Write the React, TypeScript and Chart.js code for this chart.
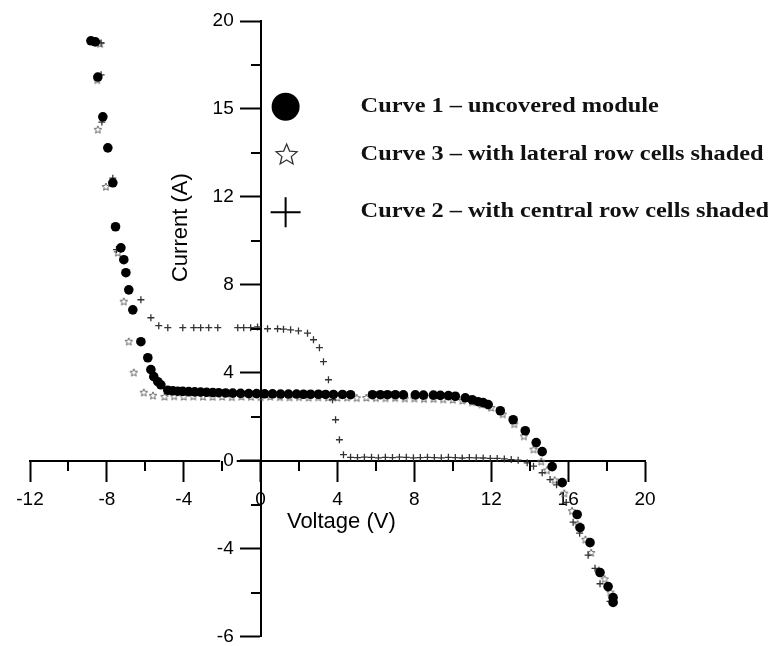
import React, { useEffect, useRef } from 'react';
import { Chart, registerables } from 'chart.js';

Chart.register(...registerables);

// ---------- data ----------
const X_MIN = -12;
const X_MAX = 20;
const Y_MIN = -8;
const Y_MAX = 20;
const Y_TICKS = [-8, -4, 0, 4, 8, 12, 16, 20];
const Y_TICK_LABELS = ['-6', '-4', '0', '4', '8', '12', '15', '20'];
const X_MINOR = [-10, -6, -2, 2, 6, 10, 14, 18];
const Y_MINOR = [-6, -2, 2, 6, 10, 14, 18];

const X_TITLE = 'Voltage (V)';
const Y_TITLE = 'Current (A)';

const SERIES_NAMES = [
  'Curve 1 \u2013 uncovered module',
  'Curve 2 \u2013 with central row cells shaded',
  'Curve 3 \u2013 with lateral row cells shaded',
];
// legend order as shown: curve 1, curve 3, curve 2
const LEGEND_ORDER = [0, 2, 1];

// Curve 1: uncovered module (filled circles)
const CURVE1: number[][] = [
  [-8.83, 19.1], [-8.6, 19.05], [-8.47, 17.45], [-8.21, 15.64], [-7.95, 14.23], [-7.69, 12.64],
  [-7.55, 10.64], [-7.27, 9.68], [-7.12, 9.14], [-7.01, 8.55], [-6.86, 7.77], [-6.65, 6.86],
  [-6.23, 5.41], [-5.87, 4.68], [-5.71, 4.14], [-5.56, 3.82], [-5.35, 3.59], [-5.19, 3.45],
  [-4.83, 3.2], [-4.57, 3.18], [-4.31, 3.16], [-4.05, 3.15], [-3.74, 3.14], [-3.43, 3.13],
  [-3.12, 3.12], [-2.81, 3.11], [-2.49, 3.1], [-2.18, 3.09], [-1.82, 3.08], [-1.45, 3.07],
  [-1.04, 3.06], [-0.62, 3.05], [-0.21, 3.05], [0.21, 3.04], [0.62, 3.04], [1.04, 3.03],
  [1.45, 3.03], [1.87, 3.03], [2.23, 3.02], [2.6, 3.02], [3.01, 3.02], [3.38, 3.01],
  [3.79, 3.01], [4.26, 3.01], [4.68, 3.0], [5.82, 3.0], [6.23, 3.0], [6.6, 3.0], [7.01, 3.0],
  [7.43, 2.99], [8.05, 2.99], [8.47, 2.98], [8.99, 2.98], [9.35, 2.97], [9.77, 2.96], [10.13, 2.93],
  [10.65, 2.86], [11.01, 2.77], [11.32, 2.68], [11.58, 2.64], [11.84, 2.55], [12.47, 2.27],
  [13.14, 1.86], [13.77, 1.36], [14.34, 0.82], [14.65, 0.41], [15.17, -0.27], [15.69, -1.0],
  [16.47, -2.45], [16.62, -3.05], [17.14, -3.73], [17.66, -5.09], [18.08, -5.73], [18.34, -6.23],
  [18.34, -6.45],
];

// Curve 2: central row cells shaded (plus markers)
const CURVE2: number[][] = [
  [-8.3, 19.0], [-8.3, 17.55], [-8.26, 15.4], [-7.69, 12.85], [-7.5, 9.6], [-6.23, 7.32],
  [-5.71, 6.5], [-5.3, 6.14], [-4.83, 6.05], [-4.05, 6.05], [-3.48, 6.05], [-3.12, 6.05],
  [-2.7, 6.05], [-2.23, 6.05], [-1.19, 6.05], [-0.88, 6.05], [-0.52, 6.05], [-0.16, 6.08],
  [0.36, 6.0], [0.88, 6.0], [1.19, 5.98], [1.56, 5.95], [1.97, 5.9], [2.44, 5.8],
  [2.75, 5.5], [3.06, 5.14], [3.27, 4.5], [3.53, 3.68], [3.74, 2.77], [3.9, 1.86], [4.1, 0.95],
  [4.31, 0.27], [4.68, 0.15], [5.04, 0.14], [5.4, 0.16], [5.77, 0.15], [6.13, 0.13], [6.49, 0.15],
  [6.86, 0.14], [7.22, 0.16], [7.58, 0.15], [7.95, 0.13], [8.31, 0.14], [8.68, 0.15], [9.04, 0.14],
  [9.4, 0.13], [9.77, 0.15], [10.13, 0.14], [10.49, 0.12], [10.86, 0.14], [11.22, 0.13],
  [11.58, 0.12], [11.95, 0.1], [12.31, 0.1], [12.68, 0.08], [13.04, 0.05], [13.4, 0.02],
  [13.87, -0.1], [14.2, -0.25], [14.65, -0.55], [15.06, -0.86], [15.4, -1.1], [15.9, -1.9],
  [16.26, -2.8], [16.6, -3.3], [17.04, -4.3], [17.4, -4.9], [17.66, -5.6], [18.18, -6.4],
];

// Curve 3: lateral row cells shaded (star markers)
const CURVE3: number[][] = [
  [-8.35, 18.95], [-8.5, 17.3], [-8.47, 15.05], [-8.05, 12.45], [-7.43, 9.45], [-7.12, 7.23],
  [-6.86, 5.41], [-6.6, 4.0], [-6.08, 3.09], [-5.6, 2.95], [-5.0, 2.9], [-4.5, 2.92], [-4.0, 2.9],
  [-3.5, 2.91], [-3.0, 2.9], [-2.5, 2.89], [-2.0, 2.9], [-1.5, 2.88], [-1.0, 2.9], [-0.5, 2.89],
  [0.0, 2.88], [0.5, 2.9], [1.0, 2.88], [1.5, 2.87], [2.0, 2.88], [2.5, 2.86], [3.0, 2.87],
  [3.5, 2.86], [4.0, 2.85], [4.5, 2.86], [5.0, 2.84], [5.5, 2.85], [6.0, 2.84], [6.5, 2.83],
  [7.0, 2.84], [7.5, 2.82], [8.0, 2.82], [8.5, 2.8], [9.0, 2.8], [9.5, 2.78], [10.0, 2.76],
  [10.5, 2.72], [11.0, 2.65], [11.5, 2.55], [12.0, 2.4], [12.6, 2.1], [13.2, 1.65], [13.7, 1.1],
  [14.2, 0.5], [14.6, -0.05], [14.9, -0.45], [15.3, -0.9], [15.8, -1.5], [16.2, -2.3],
  [16.5, -2.9], [16.9, -3.6], [17.2, -4.2], [17.6, -5.0], [17.9, -5.4], [18.2, -6.0],
];

// x value at which the right edge of the y tick labels sits
const Y_LABEL_X = -1.4;

// ---------- helpers ----------
function starPath(g: CanvasRenderingContext2D, cx: number, cy: number, R: number) {
  const r = R * 0.45;
  g.beginPath();
  for (let i = 0; i < 10; i++) {
    const a = -Math.PI / 2 + (i * Math.PI) / 5;
    const rr = i % 2 ? r : R;
    const px = cx + rr * Math.cos(a);
    const py = cy + rr * Math.sin(a);
    if (i === 0) g.moveTo(px, py);
    else g.lineTo(px, py);
  }
  g.closePath();
}

function makeStarCanvas(size: number, color: string, lw: number) {
  const c = document.createElement('canvas');
  c.width = size;
  c.height = size;
  const g = c.getContext('2d')!;
  g.strokeStyle = color;
  g.lineWidth = lw;
  starPath(g, size / 2, size / 2, size / 2 - lw);
  g.stroke();
  return c;
}

const decorPlugin = {
  id: 'decor',
  afterDraw(chart: any) {
    const { ctx } = chart;
    const xs = chart.scales.x;
    const ys = chart.scales.y;
    const x0 = Math.round(xs.getPixelForValue(0));
    const y0 = Math.round(ys.getPixelForValue(0));
    ctx.save();
    ctx.strokeStyle = '#000';
    ctx.lineWidth = 2;
    X_MINOR.forEach((v) => {
      const px = Math.round(xs.getPixelForValue(v));
      ctx.beginPath();
      ctx.moveTo(px, y0);
      ctx.lineTo(px, y0 + 10);
      ctx.stroke();
    });
    Y_MINOR.forEach((v) => {
      const py = Math.round(ys.getPixelForValue(v));
      ctx.beginPath();
      ctx.moveTo(x0, py);
      ctx.lineTo(x0 - 10, py);
      ctx.stroke();
    });

    // axis titles
    ctx.fillStyle = '#000';
    ctx.font = '22px "Liberation Sans", Arial, sans-serif';
    ctx.textAlign = 'center';
    ctx.textBaseline = 'middle';
    ctx.fillText(X_TITLE, xs.getPixelForValue(4.2), ys.getPixelForValue(-2.8));
    ctx.save();
    ctx.translate(xs.getPixelForValue(-4.15), ys.getPixelForValue(10.6));
    ctx.rotate(-Math.PI / 2);
    ctx.fillText(Y_TITLE, 0, 0);
    ctx.restore();

    // legend
    const markerX = xs.getPixelForValue(1.3);
    const textX = xs.getPixelForValue(5.2);
    const rowYs = [16.1, 13.9, 11.3].map((v) => ys.getPixelForValue(v));
    ctx.font = 'bold 20px "Liberation Serif", "Times New Roman", serif';
    ctx.textAlign = 'left';
    const refW = ctx.measureText(SERIES_NAMES[2]).width;
    const sx = 403 / refW;
    LEGEND_ORDER.forEach((si, row) => {
      const cy = rowYs[row];
      ctx.fillStyle = '#000';
      ctx.strokeStyle = '#000';
      if (si === 0) {
        ctx.beginPath();
        ctx.arc(markerX, cy, 14, 0, Math.PI * 2);
        ctx.fill();
      } else if (si === 2) {
        ctx.lineWidth = 1.3;
        ctx.strokeStyle = '#333';
        starPath(ctx, markerX + 1, cy, 11);
        ctx.stroke();
      } else {
        ctx.lineWidth = 2;
        ctx.beginPath();
        ctx.moveTo(markerX - 15, cy);
        ctx.lineTo(markerX + 15, cy);
        ctx.moveTo(markerX, cy - 15);
        ctx.lineTo(markerX, cy + 15);
        ctx.stroke();
      }
      ctx.save();
      ctx.translate(textX, cy);
      ctx.scale(sx, 1);
      ctx.fillStyle = '#111';
      ctx.fillText(SERIES_NAMES[si], 0, 0);
      ctx.restore();
    });
    ctx.restore();
  },
};

export default function App() {
  const ref = useRef<HTMLCanvasElement>(null);

  useEffect(() => {
    document.body.style.margin = '0';
    const canvas = ref.current!;
    const star = makeStarCanvas(10, '#666', 1);
    const fontFamily = '"Liberation Sans", Arial, sans-serif';
    const chart = new Chart(canvas, {
      type: 'scatter',
      data: {
        datasets: [
          {
            label: SERIES_NAMES[0],
            data: CURVE1.map(([x, y]) => ({ x, y })),
            pointStyle: 'circle',
            pointRadius: 4.8,
            backgroundColor: '#000',
            borderColor: '#000',
            borderWidth: 0,
          },
          {
            label: SERIES_NAMES[1],
            data: CURVE2.map(([x, y]) => ({ x, y })),
            pointStyle: 'cross',
            pointRadius: 3.5,
            borderColor: '#333',
            borderWidth: 1.3,
          },
          {
            label: SERIES_NAMES[2],
            data: CURVE3.map(([x, y]) => ({ x, y })),
            pointStyle: star as any,
            pointRadius: 5,
            borderColor: '#666',
          },
        ],
      },
      options: {
        animation: false,
        responsive: false,
        devicePixelRatio: 1,
        layout: { padding: { left: 30, right: 123, top: 21, bottom: 9 } },
        plugins: {
          legend: { display: false },
          tooltip: { enabled: false },
        },
        scales: {
          x: {
            type: 'linear',
            min: X_MIN,
            max: X_MAX,
            position: { y: 0 } as any,
            ticks: {
              stepSize: 4,
              color: '#000',
              font: { family: fontFamily, size: 19 },
              padding: 8,
              callback: (v: any) => String(v),
            },
            grid: {
              drawOnChartArea: false,
              drawTicks: true,
              tickLength: 20,
              tickWidth: 2,
              tickColor: '#000',
            },
            border: { display: true, color: '#000', width: 2 },
          },
          y: {
            type: 'linear',
            min: Y_MIN,
            max: Y_MAX,
            position: { x: 0 } as any,
            ticks: {
              stepSize: 4,
              display: false,
              padding: 0,
            },
            grid: {
              drawOnChartArea: false,
              drawTicks: true,
              tickLength: 20,
              tickWidth: 2,
              tickColor: '#000',
            },
            border: { display: true, color: '#000', width: 2 },
          },
          yLabels: {
            type: 'linear',
            axis: 'y',
            min: Y_MIN,
            max: Y_MAX,
            position: { x: Y_LABEL_X } as any,
            grid: { display: false, drawTicks: false },
            border: { display: false },
            ticks: {
              stepSize: 4,
              color: '#000',
              font: { family: fontFamily, size: 19, lineHeight: 1 },
              padding: 0,
              z: 1,
              showLabelBackdrop: (c: any) => c.tick && c.tick.value === 0,
              backdropColor: '#fff',
              backdropPadding: 3,
              callback: (v: any) => {
                const i = Y_TICKS.indexOf(Number(v));
                return i >= 0 ? Y_TICK_LABELS[i] : '';
              },
            } as any,
          } as any,
        },
      },
      plugins: [decorPlugin],
    });
    return () => chart.destroy();
  }, []);

  return <canvas ref={ref} width={768} height={646} style={{ display: 'block' }} />;
}
